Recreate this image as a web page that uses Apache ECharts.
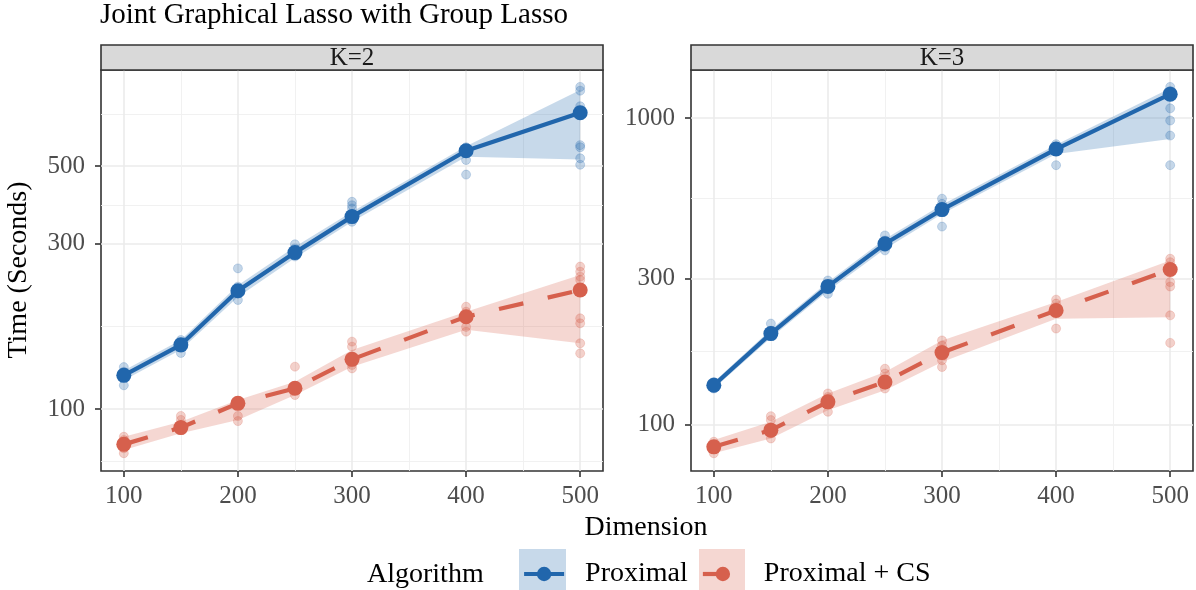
<!DOCTYPE html>
<html>
<head>
<meta charset="utf-8">
<script src="https://cdn.jsdelivr.net/npm/echarts@6/dist/echarts.min.js"></script>
<style>
html,body{margin:0;padding:0;background:#fff;}
#chart{width:1196px;height:590px;}
</style>
</head>
<body>
<div id="chart"></div>
<script>
// ---------------- data ----------------
const dims = [100, 150, 200, 250, 300, 400, 500];
const xTicks = [100, 200, 300, 400, 500];
const xMinor = [150, 250, 350, 450];
const yTicksK2 = [100, 300, 500];
const yMinorK2 = [70.7, 173.2, 387.3, 707.1];
const yTicksK3 = [100, 300, 1000];
const yMinorK3 = [173.2, 547.7];
const panelLabels = ['K=2', 'K=3'];
const algoNames = ['Proximal', 'Proximal + CS'];

// K = 2, Proximal
const k2ProxMean = [125, 153, 219, 282, 358, 554, 713];
const k2ProxLo   = [121, 148, 210, 272, 346, 532, 523];
const k2ProxHi   = [129, 158, 227, 293, 370, 571, 829];
const k2ProxRuns = [
  [132, 128, 124, 117],
  [158, 155, 150, 145],
  [254, 225, 215, 206],
  [298, 290, 281, 275],
  [395, 386, 378, 354, 346],
  [567, 551, 521, 473],
  [846, 825, 744, 575, 567, 527, 505]
];
// K = 2, Proximal + CS
const k2CsMean = [79.1, 88.4, 103.8, 114.7, 139, 184.4, 220];
const k2CsLo   = [76.2, 85.1, 93, 109.7, 132.4, 169, 154.6];
const k2CsHi   = [83.2, 91.9, 106.1, 119.8, 147.9, 190.6, 243];
const k2CsRuns = [
  [83.2, 81.4, 77.1, 74.6],
  [95.5, 93, 87],
  [105, 95.5, 92.3],
  [132.4, 113.4, 109.7],
  [156.3, 151.2, 133.9, 130.9],
  [197, 190.6, 172.3, 167],
  [257, 248.5, 240.5, 235.3, 182.4, 176.5, 154.6, 144.6]
];
// K = 3, Proximal
const k3ProxMean = [134.3, 197.9, 282.2, 388.7, 502.6, 792.5, 1197];
const k3ProxLo   = [131, 192, 272.5, 374, 486, 763, 854];
const k3ProxHi   = [137.6, 204, 291.5, 403, 521, 818, 1252];
const k3ProxRuns = [
  [137.6, 134, 131],
  [213.4, 202.5, 195.4],
  [295, 281, 267],
  [414, 398.6, 379, 370],
  [545.6, 525, 493.5, 442.5],
  [822, 797, 702],
  [1264, 1227, 1182, 1076, 982, 877, 702]
];
// K = 3, Proximal + CS
const k3CsMean = [84.5, 95.8, 118.5, 137.6, 171.6, 235.6, 320.6];
const k3CsLo   = [80.5, 90, 111.3, 129.3, 159.9, 221.4, 224];
const k3CsHi   = [88.9, 102, 126.2, 148.2, 188, 250.8, 343];
const k3CsRuns = [
  [87.8, 84.5, 80.5],
  [106.4, 103.3, 93.5, 90],
  [126.2, 123, 110],
  [152, 146.6, 131],
  [188, 181, 162, 154],
  [255.5, 248, 205.6],
  [347.5, 338.6, 291.5, 282, 227, 184.6]
];

// ---------------- styles ----------------
const FONT = '"Liberation Serif", "Times New Roman", serif';
const BLUE = '#2166AC';
const RED = '#D6604D';
const BLUE_BAND = 'rgba(33,102,172,0.25)';
const RED_BAND = 'rgba(214,96,77,0.25)';
const BLUE_PT = 'rgba(33,102,172,0.33)';
const RED_PT = 'rgba(214,96,77,0.36)';
const lg = Math.log10;

const panels = [
  {label: panelLabels[0], left: 101, yMin: 1.8215, yMax: 2.976, yTicks: yTicksK2, yMinor: yMinorK2,
   algos: [
     {name: algoNames[0], mean: k2ProxMean, lo: k2ProxLo, hi: k2ProxHi, runs: k2ProxRuns, c: BLUE, band: BLUE_BAND, pt: BLUE_PT, dash: 'solid'},
     {name: algoNames[1], mean: k2CsMean, lo: k2CsLo, hi: k2CsHi, runs: k2CsRuns, c: RED, band: RED_BAND, pt: RED_PT, dash: [25, 25]}
   ]},
  {label: panelLabels[1], left: 691, yMin: 1.848, yMax: 3.157, yTicks: yTicksK3, yMinor: yMinorK3,
   algos: [
     {name: algoNames[0], mean: k3ProxMean, lo: k3ProxLo, hi: k3ProxHi, runs: k3ProxRuns, c: BLUE, band: BLUE_BAND, pt: BLUE_PT, dash: 'solid'},
     {name: algoNames[1], mean: k3CsMean, lo: k3CsLo, hi: k3CsHi, runs: k3CsRuns, c: RED, band: RED_BAND, pt: RED_PT, dash: [25, 25]}
   ]}
];

const PW = 502, TOP = 70, PH = 401;
const grid = [], xAxis = [], yAxis = [], series = [], graphic = [];

function bandRenderer(a) {
  return function (params, api) {
    if (params.dataIndex !== 0) return null;
    const upper = dims.map((d, i) => api.coord([d, lg(a.hi[i])]));
    const lower = dims.map((d, i) => api.coord([d, lg(a.lo[i])])).reverse();
    return {type: 'polygon', shape: {points: upper.concat(lower)}, style: {fill: a.band, stroke: 'none'}};
  };
}

panels.forEach((p, gi) => {
  grid.push({left: p.left, top: TOP, width: PW, height: PH, show: true,
    borderColor: '#333333', borderWidth: 1.6, backgroundColor: '#ffffff', containLabel: false});
  xAxis.push({gridIndex: gi, type: 'value', min: 80, max: 520,
    axisLine: {show: false},
    axisTick: {show: true, customValues: xTicks, length: 6, lineStyle: {color: '#333333', width: 1.6}},
    axisLabel: {show: true, customValues: xTicks, color: '#4D4D4D', fontFamily: FONT, fontSize: 25, margin: 13},
    splitLine: {show: true, lineStyle: {color: '#EBEBEB', width: 1.6}}
  });
  xAxis.push({gridIndex: gi, type: 'value', min: 80, max: 520, position: 'bottom',
    axisLine: {show: false},
    axisTick: {show: false, customValues: xMinor},
    axisLabel: {show: false, customValues: xMinor},
    splitLine: {show: true, lineStyle: {color: '#EFEFEF', width: 0.9}}
  });
  yAxis.push({gridIndex: gi, type: 'value', min: p.yMin, max: p.yMax,
    axisLine: {show: false},
    axisTick: {show: true, customValues: p.yTicks.map(lg), length: 6, lineStyle: {color: '#333333', width: 1.6}},
    axisLabel: {show: true, customValues: p.yTicks.map(lg), color: '#4D4D4D', fontFamily: FONT, fontSize: 25, margin: 16,
      formatter: v => String(Math.round(Math.pow(10, v)))},
    splitLine: {show: true, lineStyle: {color: '#EBEBEB', width: 1.6}}
  });
  yAxis.push({gridIndex: gi, type: 'value', min: p.yMin, max: p.yMax, position: 'left',
    axisLine: {show: false},
    axisTick: {show: false, customValues: p.yMinor.map(lg)},
    axisLabel: {show: false, customValues: p.yMinor.map(lg)},
    splitLine: {show: true, lineStyle: {color: '#EFEFEF', width: 0.9}}
  });
  const xi = gi * 2, yi = gi * 2;
  p.algos.forEach(a => {
    series.push({type: 'custom', xAxisIndex: xi, yAxisIndex: yi, silent: true, clip: true,
      data: dims.map((d, i) => [d, lg(a.lo[i]), lg(a.hi[i])]),
      encode: {x: 0, y: [1, 2]},
      renderItem: bandRenderer(a), z: 1});
  });
  p.algos.forEach(a => {
    const pts = [];
    dims.forEach((d, i) => a.runs[i].forEach(v => pts.push([d, lg(v)])));
    series.push({type: 'scatter', xAxisIndex: xi, yAxisIndex: yi, silent: true, data: pts,
      symbol: 'circle', symbolSize: 9, itemStyle: {color: a.pt, borderColor: a.pt, borderWidth: 0.8}, z: 2});
  });
  p.algos.forEach(a => {
    series.push({type: 'line', name: a.name, xAxisIndex: xi, yAxisIndex: yi,
      data: dims.map((d, i) => [d, lg(a.mean[i])]),
      symbol: 'circle', symbolSize: 15, showSymbol: true,
      itemStyle: {color: a.c}, lineStyle: {color: a.c, width: 4.2, type: a.dash}, z: 3});
  });
  graphic.push({type: 'rect', shape: {x: p.left, y: 45, width: PW, height: 25},
    style: {fill: '#D9D9D9', stroke: '#333333', lineWidth: 1.6}, z: 10});
  graphic.push({type: 'text', x: p.left + PW / 2, y: 58, z: 11,
    style: {text: p.label, fill: '#1A1A1A', font: '25px ' + FONT, textAlign: 'center', textVerticalAlign: 'middle'}});
});

graphic.push({type: 'rect', shape: {x: 519, y: 549, width: 47, height: 48}, style: {fill: BLUE_BAND}, z: 0});
graphic.push({type: 'rect', shape: {x: 699, y: 549, width: 46, height: 48}, style: {fill: RED_BAND}, z: 0});
graphic.push({type: 'text', x: 100, y: 15, z: 11,
  style: {text: 'Joint Graphical Lasso with Group Lasso', fill: '#000', font: '29px ' + FONT, textAlign: 'left', textVerticalAlign: 'middle'}});
graphic.push({type: 'text', x: 646, y: 528, z: 11,
  style: {text: 'Dimension', fill: '#000', font: '28px ' + FONT, textAlign: 'center', textVerticalAlign: 'middle'}});
graphic.push({type: 'text', x: 19, y: 270, rotation: Math.PI / 2, z: 11,
  style: {text: 'Time (Seconds)', fill: '#000', font: '28px ' + FONT, textAlign: 'center', textVerticalAlign: 'middle'}});
graphic.push({type: 'text', x: 367, y: 575, z: 11,
  style: {text: 'Algorithm', fill: '#000', font: '28px ' + FONT, textAlign: 'left', textVerticalAlign: 'middle'}});

const option = {
  animation: false,
  backgroundColor: '#ffffff',
  grid, xAxis, yAxis, series, graphic,
  legend: {
    data: algoNames,
    left: 522, top: 560, padding: 0,
    itemWidth: 40, itemHeight: 18, itemGap: 13,
    lineStyle: {width: 4.2},
    textStyle: {fontFamily: FONT, fontSize: 28, color: '#000', padding: [0, 0, 0, 16]},
    selectedMode: false
  }
};

const chart = echarts.init(document.getElementById('chart'), null, {renderer: 'canvas'});
chart.setOption(option);
</script>
</body>
</html>
